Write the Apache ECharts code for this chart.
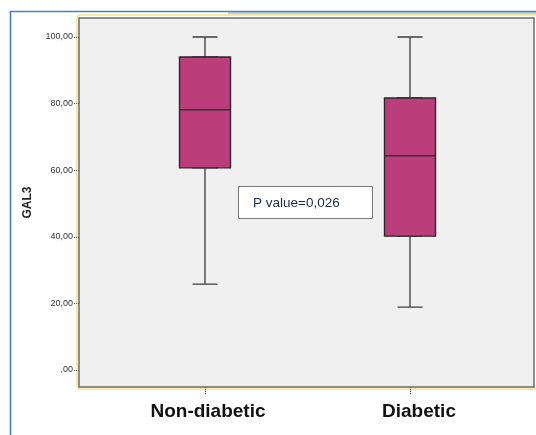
<!DOCTYPE html>
<html>
<head>
<meta charset="utf-8">
<script src="https://cdn.jsdelivr.net/npm/echarts@6/dist/echarts.min.js"></script>
<style>
  html, body { margin: 0; padding: 0; background: #fff; }
  #box { width: 536px; height: 435px; }
</style>
</head>
<body>
<div id="box"></div>
<script>
// GAL3 by group
var groups = ['Non-diabetic', 'Diabetic'];
var whiskerMin = [25.8, 18.9];
var q1 = [60.7, 40.2];
var median = [78.1, 64.3];
var q3 = [94.0, 81.7];
var whiskerMax = [100, 100];
var yTicks = [0, 20, 40, 60, 80, 100];
var pText = 'P value=0,026';

(function(){

	var chart = echarts.init(document.getElementById('box'));

	// whiskers (narrow caps) go on their own grid, the box is drawn over them
	var whiskerData = [], boxData = [];
	for (var i = 0; i < groups.length; i++) {
		whiskerData.push([whiskerMin[i], q1[i], median[i], q3[i], whiskerMax[i]]);
		boxData.push([q1[i], q1[i], median[i], q3[i], q3[i]]);
	}

	var fmt = function (v) {
		var s = v.toFixed(2).replace('.', ',');
		return v === 0 ? ',00' : s;
	};

	var font = 'Liberation Sans, Arial, sans-serif';

	option = {
		animation: false,
		title: {
			text: pText,
			left: 238,
			top: 186,
			backgroundColor: '#fff',
			borderColor: '#7a7a7a',
			borderWidth: 1,
			padding: [10, 33, 9, 15],
			textStyle: {
				fontFamily: font,
				fontSize: 13.5,
				fontWeight: 'normal',
				color: '#1c2a48'
			}
		},
		graphic: [
			{ type: 'line', shape: { x1: 10, y1: 11.5, x2: 536, y2: 11.5 }, style: { stroke: '#4a7fc4', lineWidth: 1.5 }, silent: true },
			{ type: 'line', shape: { x1: 228, y1: 13, x2: 536, y2: 13 }, style: { stroke: '#9dbbe3', lineWidth: 1.5 }, silent: true },
			{ type: 'line', shape: { x1: 10.5, y1: 11, x2: 10.5, y2: 435 }, style: { stroke: '#3d78c6', lineWidth: 1.5 }, silent: true },
			{ type: 'rect', shape: { x: 77, y: 15, width: 470, height: 374, r: 3 }, style: { fill: 'none', stroke: '#fbe7a6', lineWidth: 2 }, silent: true, z: -1 }
		],
		grid: [
			{ left: 79, top: 18, width: 455, height: 369, show: true, backgroundColor: '#f0f0f0', borderColor: '#6a6a6a', borderWidth: 1.5 },
			{ left: 102.5, top: 18, width: 410, height: 369 },
			{ left: 102.5, top: 18, width: 410, height: 369 }
		],
		xAxis: [
			{ gridIndex: 0, type: 'value', show: false },
			{
				gridIndex: 1,
				type: 'category',
				boundaryGap: true,
				data: [
					{ value: groups[0], textStyle: { padding: [0, 0, 0, 6] } },
					{ value: groups[1], textStyle: { padding: [0, 0, 0, 18] } }
				],
				axisLine: { show: false, onZero: false },
				axisTick: { show: true, alignWithLabel: true, length: 7, lineStyle: { color: '#555', type: 'dotted' } },
				axisLabel: {
					margin: 15,
					fontFamily: font,
					fontSize: 19,
					fontWeight: 'bold',
					color: '#111'
				},
				splitLine: { show: false }
			},
			{ gridIndex: 2, type: 'category', boundaryGap: true, data: groups, show: false, axisLine: { onZero: false } }
		],
		yAxis: [
			{
				gridIndex: 0,
				type: 'value',
				min: -5.1,
				max: 105.7,
				name: 'GAL3',
				nameLocation: 'middle',
				nameRotate: 90,
				nameGap: 45,
				nameTextStyle: {
					fontFamily: font,
					fontSize: 12,
					fontWeight: 'bold',
					color: '#222'
				},
				axisLine: { show: false },
				axisTick: { show: true, length: 5, customValues: yTicks, lineStyle: { color: '#555', type: 'dotted' } },
				axisLabel: {
					customValues: yTicks,
					formatter: fmt,
					margin: 6,
					fontFamily: font,
					fontSize: 9,
					color: '#333'
				},
				splitLine: { show: false }
			},
			{ gridIndex: 1, type: 'value', min: -5.1, max: 105.7, show: false },
			{ gridIndex: 2, type: 'value', min: -5.1, max: 105.7, show: false }
		],
		series: [
			{
				name: 'whisker',
				type: 'boxplot',
				xAxisIndex: 2,
				yAxisIndex: 2,
				z: 2,
				boxWidth: [25, 25],
				itemStyle: { color: 'transparent', borderColor: '#3c3c3c', borderWidth: 1.3 },
				data: whiskerData
			},
			{
				name: 'box',
				type: 'boxplot',
				xAxisIndex: 1,
				yAxisIndex: 1,
				z: 3,
				boxWidth: [51, 51],
				itemStyle: { color: '#bb3e7b', borderColor: '#2a2a2a', borderWidth: 1.4 },
				data: boxData
			}
		]
	};

	chart.setOption(option);
})();
</script>
</body>
</html>
